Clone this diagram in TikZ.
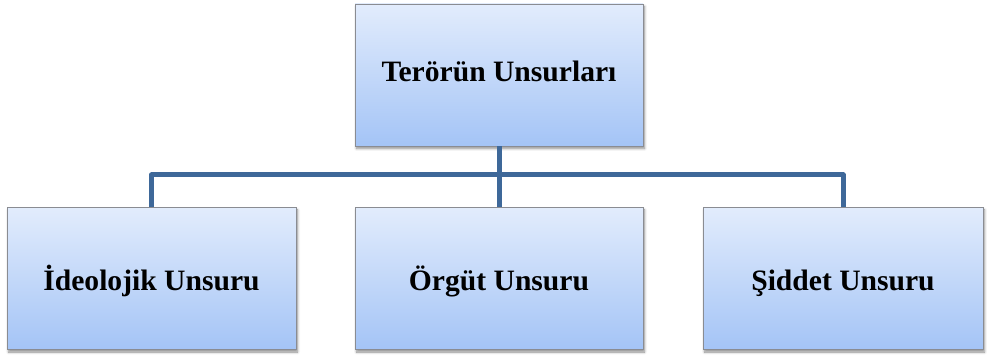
\documentclass[tikz,border=0pt]{standalone}
\usepackage{fontspec}
\setmainfont{Liberation Serif}
\usetikzlibrary{shadows,shadows.blur}
\definecolor{boxtop}{HTML}{E2ECFC}
\definecolor{boxbot}{HTML}{A4C4F6}
\definecolor{boxline}{HTML}{8A8C92}
\definecolor{conn}{HTML}{3E6899}
\tikzset{
  unitbox/.style={draw=boxline, line width=0.8pt, top color=boxtop, bottom color=boxbot,
    minimum width=#1, minimum height=142pt, inner sep=0pt, text height=20pt, text depth=6pt,
    font=\fontsize{29.6}{34}\selectfont\bfseries,
    blur shadow={shadow xshift=1.5pt, shadow yshift=-2.5pt, shadow blur steps=6, shadow blur radius=2.5pt, shadow opacity=45}},
  unitbox/.default=288pt,
  lowtext/.style={text height=28pt, text depth=5pt},
  connector/.style={draw=conn, line width=5pt, line join=round},
}
\begin{document}
\begin{tikzpicture}[x=1pt,y=1pt]
\useasboundingbox (0,0) rectangle (987,356);
\node[unitbox=288pt] (top) at (499,281) {Terörün Unsurları};
\node[unitbox=289pt, lowtext] (ideo) at (151.5,77.5) {İdeolojik Unsuru};
\node[unitbox=288pt, lowtext] (orgut) at (499,77.5) {Örgüt Unsuru};
\node[unitbox=280pt, lowtext] (siddet) at (843,77.5) {Şiddet Unsuru};
\coordinate (bus) at (499,181);
\draw[connector] (top.south) -- (orgut.north);
\draw[connector] (ideo.north) -- (ideo.north |- bus) -- (siddet.north |- bus) -- (siddet.north);
\end{tikzpicture}
\end{document}
